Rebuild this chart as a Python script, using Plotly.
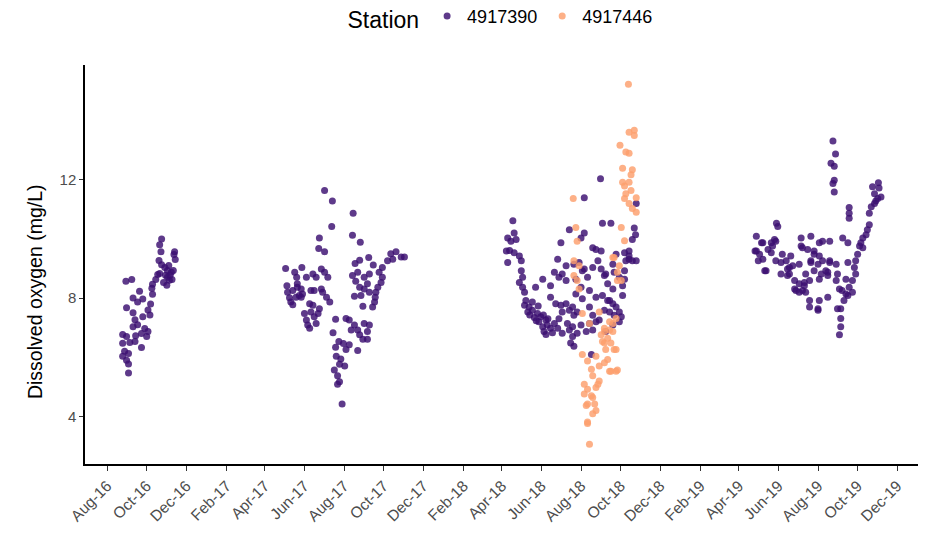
import plotly.graph_objects as go

# ---- data (date, dissolved oxygen mg/L) ----
station_4917390_2016 = [
    ("2016-10-24", 10.0), ("2016-10-21", 9.8), ("2016-10-23", 9.57), ("2016-11-13", 9.57), ("2016-11-12", 9.47),
    ("2016-10-20", 9.27), ("2016-10-24", 9.13), ("2016-10-29", 9.03), ("2016-11-02", 8.93), ("2016-11-08", 8.87),
    ("2016-11-09", 8.63), ("2016-11-05", 8.6), ("2016-10-30", 8.77), ("2016-10-18", 8.8), ("2016-10-15", 8.63),
    ("2016-10-10", 8.47), ("2016-10-09", 8.33), ("2016-11-01", 8.43), ("2016-11-11", 8.93), ("2016-08-30", 8.57),
    ("2016-09-08", 8.63), ("2016-09-20", 8.23), ("2016-09-10", 8.0), ("2016-09-17", 7.87), ("2016-09-25", 7.97),
    ("2016-10-07", 7.8), ("2016-10-10", 8.13), ("2016-10-03", 7.6), ("2016-08-31", 7.67), ("2016-09-10", 7.5),
    ("2016-09-25", 7.37), ("2016-10-06", 7.43), ("2016-09-13", 7.27), ("2016-09-17", 7.1), ("2016-09-28", 6.97),
    ("2016-10-03", 6.87), ("2016-09-23", 6.8), ("2016-09-10", 7.03), ("2016-08-25", 6.77), ("2016-08-31", 6.7),
    ("2016-09-14", 6.73), ("2016-10-01", 6.7), ("2016-08-25", 6.47), ("2016-09-05", 6.5), ("2016-09-13", 6.53),
    ("2016-09-23", 6.33), ("2016-08-28", 6.2), ("2016-09-03", 6.13), ("2016-08-25", 6.03), ("2016-08-31", 5.9),
    ("2016-09-03", 5.77), ("2016-09-03", 5.47), ("2016-11-02", 8.7), ("2016-11-06", 8.77), ("2016-10-27", 8.53),
    ("2016-11-14", 9.3), ("2016-11-04", 9.1), ("2016-10-21", 8.83),
]

station_4917390_2017 = [
    ("2017-07-02", 11.64), ("2017-07-14", 11.28), ("2017-08-15", 10.87), ("2017-07-13", 10.42), ("2017-08-14", 10.12),
    ("2017-08-26", 9.89), ("2017-06-24", 10.03), ("2017-06-23", 9.68), ("2017-07-02", 9.57), ("2017-09-08", 9.37),
    ("2017-08-25", 9.28), ("2017-08-18", 9.17), ("2017-09-15", 9.12), ("2017-10-12", 9.5), ("2017-10-20", 9.57),
    ("2017-10-28", 9.39), ("2017-11-02", 9.39), ("2017-10-15", 9.31), ("2017-10-07", 9.26), ("2017-09-29", 9.03),
    ("2017-09-24", 8.87), ("2017-09-29", 8.7), ("2017-09-27", 8.53), ("2017-09-22", 8.37), ("2017-09-19", 8.2),
    ("2017-09-18", 8.03), ("2017-09-17", 7.87), ("2017-09-14", 7.7), ("2017-09-09", 8.81), ("2017-09-01", 8.7),
    ("2017-09-06", 8.48), ("2017-08-25", 8.37), ("2017-08-19", 8.57), ("2017-08-14", 8.76), ("2017-08-22", 8.87),
    ("2017-09-01", 8.31), ("2017-09-09", 8.2), ("2017-08-27", 8.09), ("2017-08-17", 8.06), ("2017-08-30", 7.72),
    ("2017-05-03", 9.0), ("2017-05-05", 8.42), ("2017-05-06", 8.2), ("2017-05-09", 8.01), ("2017-05-11", 7.87),
    ("2017-05-17", 8.87), ("2017-05-20", 8.7), ("2017-05-21", 8.48), ("2017-05-27", 8.31), ("2017-05-29", 8.14),
    ("2017-05-28", 9.03), ("2017-05-24", 8.09), ("2017-05-14", 8.26), ("2017-05-19", 8.03), ("2017-06-04", 8.7),
    ("2017-06-14", 8.81), ("2017-06-19", 8.7), ("2017-06-11", 8.26), ("2017-06-16", 8.26), ("2017-06-27", 8.98),
    ("2017-07-02", 8.87), ("2017-07-07", 8.7), ("2017-06-29", 8.2), ("2017-07-05", 8.03), ("2017-07-10", 7.87),
    ("2017-06-09", 7.81), ("2017-06-14", 7.76), ("2017-06-22", 7.48), ("2017-06-11", 7.53), ("2017-06-16", 7.37),
    ("2017-06-04", 7.26), ("2017-06-06", 7.09), ("2017-06-09", 6.98), ("2017-06-19", 7.14), ("2017-06-01", 7.48),
    ("2017-06-24", 7.64), ("2017-05-21", 8.37), ("2017-05-14", 7.77), ("2017-05-27", 8.03), ("2017-06-27", 8.31),
    ("2017-07-19", 7.28), ("2017-07-15", 6.83), ("2017-07-19", 6.34), ("2017-07-24", 6.53), ("2017-07-31", 6.46),
    ("2017-08-04", 6.26), ("2017-07-20", 6.03), ("2017-07-27", 5.94), ("2017-07-25", 5.76), ("2017-08-02", 5.7),
    ("2017-07-17", 5.57), ("2017-07-22", 5.37), ("2017-07-25", 5.17), ("2017-07-22", 5.09), ("2017-07-29", 4.42),
    ("2017-08-09", 7.26), ("2017-08-17", 7.09), ("2017-08-12", 6.92), ("2017-08-22", 6.92), ("2017-08-25", 6.76),
    ("2017-09-01", 7.14), ("2017-09-09", 7.09), ("2017-09-06", 6.87), ("2017-08-30", 6.61), ("2017-09-06", 6.61),
    ("2017-08-22", 6.23), ("2017-08-09", 6.42), ("2017-08-04", 7.31),
]

station_4917390_2018 = [
    ("2018-04-18", 10.61), ("2018-04-10", 10.03), ("2018-04-15", 9.92), ("2018-04-20", 10.2), ("2018-04-23", 9.98),
    ("2018-04-08", 9.59), ("2018-04-13", 9.61), ("2018-04-20", 9.53), ("2018-04-28", 9.42), ("2018-04-10", 9.2),
    ("2018-05-01", 9.26), ("2018-05-01", 8.92), ("2018-05-03", 8.7), ("2018-04-28", 8.53), ("2018-05-03", 8.37),
    ("2018-05-06", 8.2), ("2018-05-08", 7.92), ("2018-05-06", 7.76), ("2018-05-13", 7.7), ("2018-05-18", 7.59),
    ("2018-05-11", 7.53), ("2018-05-26", 7.48), ("2018-05-31", 7.37), ("2018-06-08", 7.26), ("2018-06-10", 7.09),
    ("2018-06-03", 7.03), ("2018-06-15", 6.98), ("2018-06-05", 6.87), ("2018-05-28", 7.2), ("2018-05-21", 7.34),
    ("2018-06-21", 7.14), ("2018-06-26", 6.98), ("2018-07-03", 6.81), ("2018-07-14", 6.92), ("2018-07-19", 6.7),
    ("2018-07-16", 6.48), ("2018-07-21", 6.37), ("2018-07-11", 7.14), ("2018-05-23", 8.37), ("2018-06-03", 8.64),
    ("2018-06-15", 8.42), ("2018-06-28", 8.7), ("2018-06-21", 8.87), ("2018-07-03", 8.81), ("2018-07-09", 8.59),
    ("2018-07-01", 9.87), ("2018-07-14", 10.31), ("2018-06-26", 9.31), ("2018-07-09", 9.09), ("2018-07-21", 9.14),
    ("2018-06-15", 8.03), ("2018-06-23", 7.81), ("2018-07-01", 7.76), ("2018-07-09", 7.81), ("2018-07-03", 7.53),
    ("2018-07-14", 7.59), ("2018-07-21", 7.42), ("2018-07-26", 7.53), ("2018-08-03", 7.98), ("2018-08-14", 8.26),
    ("2018-08-01", 8.37), ("2018-07-24", 8.64), ("2018-08-06", 8.98), ("2018-08-11", 8.7), ("2018-08-06", 10.2),
    ("2018-08-24", 9.64), ("2018-09-01", 9.59), ("2018-08-27", 9.26), ("2018-08-19", 9.03), ("2018-09-01", 8.98),
    ("2018-09-08", 8.81), ("2018-09-03", 10.53), ("2018-09-16", 10.53), ("2018-09-24", 9.48), ("2018-10-07", 9.53),
    ("2018-10-14", 9.42), ("2018-10-19", 9.26), ("2018-10-09", 9.26), ("2018-10-22", 10.37), ("2018-10-19", 9.98),
    ("2018-10-25", 11.2), ("2018-08-24", 8.03), ("2018-09-03", 8.09), ("2018-09-11", 7.92), ("2018-09-19", 7.81),
    ("2018-09-24", 7.7), ("2018-09-29", 7.53), ("2018-10-02", 7.37), ("2018-09-06", 7.59), ("2018-09-14", 7.53),
    ("2018-09-21", 7.42), ("2018-08-14", 7.7), ("2018-08-19", 7.42), ("2018-08-24", 7.2), ("2018-08-14", 7.14),
    ("2018-08-01", 7.09), ("2018-07-26", 6.81), ("2018-08-09", 6.87), ("2018-08-19", 6.92), ("2018-09-08", 6.87),
    ("2018-08-17", 6.09), ("2018-10-04", 8.42), ("2018-10-07", 8.92), ("2018-09-19", 8.31), ("2018-09-29", 8.7),
    ("2018-08-31", 12.03), ("2018-08-06", 11.39), ("2018-10-24", 10.14), ("2018-08-01", 10.03), ("2018-10-14", 9.59),
    ("2018-08-19", 9.7), ("2018-10-14", 9.31), ("2018-10-25", 9.26), ("2018-05-14", 7.43), ("2018-05-24", 7.23),
    ("2018-06-04", 7.43), ("2018-06-11", 7.3), ("2018-06-18", 6.83), ("2018-06-28", 7.3), ("2018-06-08", 6.77),
    ("2018-05-18", 7.87), ("2018-05-27", 7.73), ("2018-07-29", 9.2), ("2018-09-19", 9.14), ("2018-08-03", 8.92),
    ("2018-09-06", 8.76), ("2018-09-11", 8.48), ("2018-09-21", 8.87), ("2018-10-07", 8.64), ("2018-10-04", 8.09),
    ("2018-09-14", 7.92), ("2018-07-24", 8.14), ("2018-07-19", 7.7), ("2018-08-29", 7.26), ("2018-07-19", 7.03),
    ("2018-09-19", 7.09), ("2018-09-29", 7.2),
]

station_4917390_2019 = [
    ("2019-08-24", 13.31), ("2019-08-28", 12.87), ("2019-08-21", 12.56), ("2019-08-26", 12.46), ("2019-08-26", 11.98),
    ("2019-08-24", 11.87), ("2019-08-26", 11.59), ("2019-10-24", 11.76), ("2019-11-02", 11.9), ("2019-11-03", 11.72),
    ("2019-10-27", 11.53), ("2019-11-01", 11.37), ("2019-11-06", 11.42), ("2019-10-27", 11.2), ("2019-10-22", 11.09),
    ("2019-10-29", 11.28), ("2019-09-18", 11.06), ("2019-09-18", 10.87), ("2019-09-18", 10.7), ("2019-10-19", 10.87),
    ("2019-10-19", 10.48), ("2019-10-16", 10.31), ("2019-10-14", 10.14), ("2019-10-09", 10.03), ("2019-10-06", 9.87),
    ("2019-10-04", 9.76), ("2019-10-09", 9.7), ("2019-10-01", 9.48), ("2019-09-28", 9.26), ("2019-09-26", 9.03),
    ("2019-09-28", 8.81), ("2019-09-23", 8.59), ("2019-09-18", 8.37), ("2019-09-13", 8.14), ("2019-09-10", 7.92),
    ("2019-09-05", 7.64), ("2019-08-31", 7.64), ("2019-09-05", 7.31), ("2019-09-05", 7.03), ("2019-09-03", 6.76),
    ("2019-09-07", 8.26), ("2019-09-16", 8.09), ("2019-09-23", 8.2), ("2019-05-29", 10.53), ("2019-05-31", 10.42),
    ("2019-04-28", 10.09), ("2019-05-06", 9.87), ("2019-05-21", 9.87), ("2019-05-23", 9.76), ("2019-05-28", 9.92),
    ("2019-04-28", 9.59), ("2019-05-03", 9.48), ("2019-05-08", 9.31), ("2019-05-01", 9.26), ("2019-05-11", 8.92),
    ("2019-05-16", 9.64), ("2019-05-21", 9.53), ("2019-06-07", 9.48), ("2019-06-05", 9.2), ("2019-06-13", 9.26),
    ("2019-06-20", 9.42), ("2019-06-15", 8.98), ("2019-06-23", 9.09), ("2019-06-18", 8.81), ("2019-06-05", 8.81),
    ("2019-07-06", 10.03), ("2019-07-21", 10.09), ("2019-07-06", 9.76), ("2019-07-16", 9.64), ("2019-07-26", 9.48),
    ("2019-08-03", 9.87), ("2019-08-08", 9.92), ("2019-08-19", 9.92), ("2019-07-21", 9.26), ("2019-08-01", 9.14),
    ("2019-08-08", 9.26), ("2019-08-19", 9.26), ("2019-08-29", 9.14), ("2019-09-16", 9.2), ("2019-09-08", 10.03),
    ("2019-09-16", 9.87), ("2019-07-03", 9.14), ("2019-07-13", 8.81), ("2019-07-26", 8.92), ("2019-08-06", 8.81),
    ("2019-08-13", 8.92), ("2019-08-16", 8.76), ("2019-08-31", 8.81), ("2019-09-13", 8.64), ("2019-06-26", 8.59),
    ("2019-07-03", 8.48), ("2019-07-11", 8.53), ("2019-06-28", 8.26), ("2019-07-08", 8.26), ("2019-07-19", 8.59),
    ("2019-07-19", 7.92), ("2019-08-03", 7.92), ("2019-07-19", 7.7), ("2019-08-01", 7.59), ("2019-08-16", 8.03),
    ("2019-08-29", 8.59), ("2019-09-03", 8.31), ("2019-05-08", 9.87), ("2019-05-26", 9.98), ("2019-04-26", 9.59),
    ("2019-05-13", 8.92), ("2019-05-28", 9.26), ("2019-06-18", 9.03), ("2019-06-15", 8.76), ("2019-07-08", 9.7),
    ("2019-07-26", 9.59), ("2019-08-03", 9.42), ("2019-07-21", 9.2), ("2019-08-19", 9.2), ("2019-07-11", 8.42),
    ("2019-07-03", 8.2), ("2019-06-26", 8.31), ("2019-07-13", 8.2), ("2019-08-03", 8.64), ("2019-08-16", 8.87),
    ("2019-08-01", 7.64),
]

station_4917446_2018 = [
    ("2018-10-13", 15.23), ("2018-10-14", 13.61), ("2018-10-22", 13.67), ("2018-10-22", 13.5), ("2018-09-30", 13.17),
    ("2018-10-09", 12.94), ("2018-10-14", 12.9), ("2018-10-04", 12.39), ("2018-10-19", 12.34), ("2018-10-17", 12.17),
    ("2018-10-04", 11.92), ("2018-10-14", 11.92), ("2018-10-07", 11.79), ("2018-10-17", 11.64), ("2018-10-09", 11.53),
    ("2018-10-07", 11.37), ("2018-10-25", 11.39), ("2018-10-14", 11.2), ("2018-10-19", 11.03), ("2018-10-25", 10.9),
    ("2018-07-20", 11.37), ("2018-10-02", 10.39), ("2018-10-07", 9.94), ("2018-07-24", 10.39), ("2018-07-26", 9.92),
    ("2018-09-21", 9.37), ("2018-07-21", 9.26), ("2018-07-29", 9.09), ("2018-07-21", 8.76), ("2018-07-26", 8.59),
    ("2018-07-29", 8.31), ("2018-09-29", 9.09), ("2018-09-26", 8.87), ("2018-10-02", 8.59), ("2018-08-03", 7.48),
    ("2018-08-14", 7.14), ("2018-08-29", 7.53), ("2018-09-06", 6.87), ("2018-09-11", 6.64), ("2018-09-06", 6.48),
    ("2018-09-16", 6.48), ("2018-09-21", 6.26), ("2018-09-08", 6.26), ("2018-09-01", 6.76), ("2018-09-14", 6.92),
    ("2018-09-19", 7.14), ("2018-09-24", 7.31), ("2018-08-03", 6.09), ("2018-08-11", 5.87), ("2018-08-24", 6.03),
    ("2018-08-17", 5.59), ("2018-08-29", 5.7), ("2018-09-06", 5.81), ("2018-09-14", 5.53), ("2018-09-24", 5.53),
    ("2018-08-19", 5.37), ("2018-08-29", 5.2), ("2018-08-06", 5.09), ("2018-08-11", 4.92), ("2018-08-24", 4.98),
    ("2018-08-17", 4.7), ("2018-08-09", 4.37), ("2018-08-22", 4.42), ("2018-08-24", 4.2), ("2018-08-19", 4.09),
    ("2018-08-11", 3.76), ("2018-08-14", 3.06), ("2018-09-03", 6.53), ("2018-09-24", 6.26), ("2018-09-11", 5.92),
    ("2018-09-16", 5.53), ("2018-09-26", 5.57), ("2018-08-27", 5.09), ("2018-08-06", 4.76), ("2018-08-19", 4.64),
    ("2018-08-11", 4.42), ("2018-08-11", 3.81), ("2018-09-19", 9.37), ("2018-09-26", 8.59), ("2018-09-14", 7.2),
    ("2018-09-06", 6.98), ("2018-09-19", 6.87),
]

stations = ["4917390", "4917446"]
colors = ["#3B0F70", "#FC9F6C"]
series = [
    station_4917390_2016 + station_4917390_2017 + station_4917390_2018 + station_4917390_2019,
    station_4917446_2018,
]

x_tick_start = "2016-08-01"
y_ticks = [4, 8, 12]
y_title = "Dissolved oxygen (mg/L)"

fig = go.Figure()
for name, col, pts in zip(stations, colors, series):
    fig.add_trace(go.Scatter(
        x=[p[0] for p in pts], y=[p[1] for p in pts],
        mode="markers", name=name,
        marker=dict(color=col, size=7, opacity=0.82, line=dict(width=0)),
    ))

font_family = "Liberation Sans, Arial, sans-serif"
# the page body adds an 8px offset; margins compensate so the plot area lands at x 85-918, y 65-464
fig.update_layout(
    width=927, height=533,
    margin=dict(l=77, r=17, t=57, b=77, autoexpand=False),
    plot_bgcolor="white", paper_bgcolor="white",
    font=dict(family=font_family, color="black"),
    legend=dict(
        orientation="h", x=0.5, xanchor="center", y=1.118, yanchor="middle",
        title=dict(text="Station", font=dict(size=23, color="black"), side="left"),
        font=dict(size=18, color="black"),
        itemwidth=30, tracegroupgap=0,
    ),
    showlegend=True,
    annotations=[dict(
        text=y_title, xref="paper", yref="paper", x=-0.06, y=0.431,
        xanchor="center", yanchor="middle", textangle=-90, showarrow=False,
        font=dict(size=19.5, color="black"),
    )],
)
fig.update_xaxes(
    type="date", range=["2016-06-28", "2020-01-02"],
    tick0=x_tick_start, dtick="M2", tickformat="%b-%y", tickangle=-45,
    ticks="outside", ticklen=5, tickwidth=1, tickcolor="#333333",
    showline=True, linecolor="black", linewidth=1.5,
    showgrid=False, zeroline=False, automargin=False,
    tickfont=dict(size=15.5, color="#4d4d4d"),
)
fig.update_yaxes(
    range=[2.39, 15.88], tickvals=y_ticks,
    ticks="outside", ticklen=4, tickwidth=1, tickcolor="#333333",
    showline=True, linecolor="black", linewidth=1.5,
    showgrid=False, zeroline=False, automargin=False,
    tickfont=dict(size=15, color="#4d4d4d"),
)

fig.write_html("out.html")
